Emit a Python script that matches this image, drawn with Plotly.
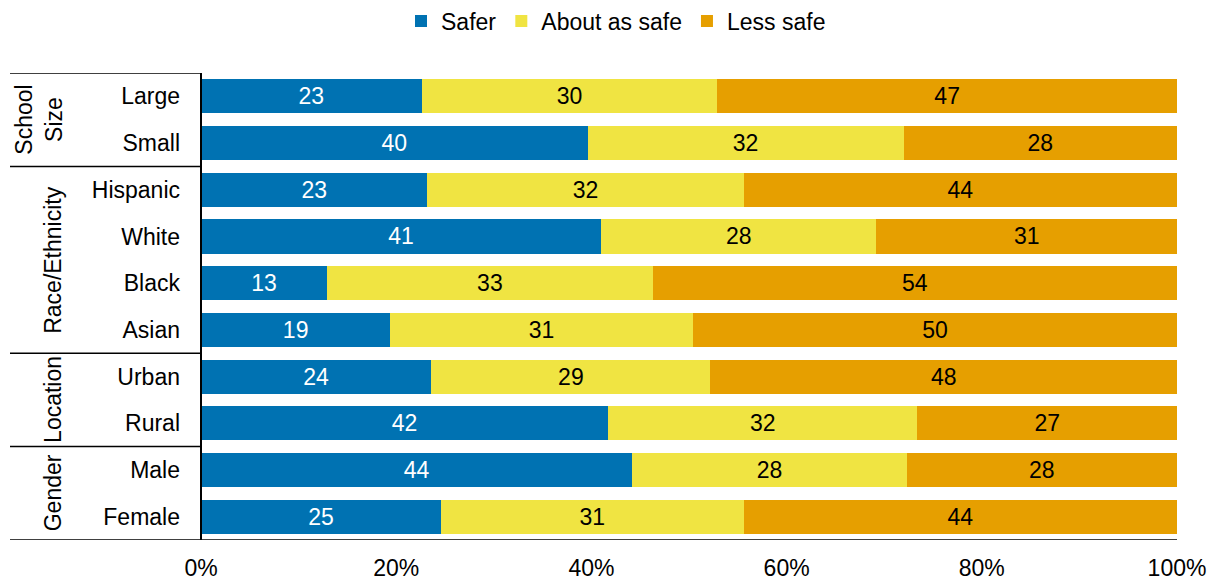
import plotly.graph_objects as go

categories = ["Large", "Small", "Hispanic", "White", "Black", "Asian",
              "Urban", "Rural", "Male", "Female"]
safer = [22.6, 39.6, 23.2, 41.0, 12.9, 19.4, 23.6, 41.7, 44.2, 24.6]
about = [30.3, 32.4, 32.4, 28.2, 33.4, 31.0, 28.6, 31.7, 28.1, 31.0]
less = [47.1, 28.0, 44.4, 30.8, 53.7, 49.6, 47.8, 26.6, 27.7, 44.4]
x_ticks = [0, 20, 40, 60, 80, 100]
x_tick_labels = ["0%", "20%", "40%", "60%", "80%", "100%"]
groups = [("School<br>Size", 0, 1), ("Race/Ethnicity", 2, 5),
          ("Location", 6, 7), ("Gender", 8, 9)]

FONT = "Liberation Sans, Arial, sans-serif"
FS = 23

fig = go.Figure()
series = [("Safer", safer, "#0072B2", "white"),
          ("About as safe", about, "#F0E442", "black"),
          ("Less safe", less, "#E69F00", "black")]
for name, vals, color, tcolor in series:
    fig.add_trace(go.Bar(
        y=categories, x=vals, name=name, orientation="h",
        marker=dict(color=color, line=dict(width=0)),
        texttemplate="%{x:.0f}", textposition="inside",
        insidetextanchor="middle",
        textfont=dict(color=tcolor, size=FS, family=FONT),
        hoverinfo="skip",
    ))

W, H = 1214, 581
L = 201
T = 73
pw = 1177 - 201
ph = 540 - 73
R = W - L - pw
B = H - T - ph

def px_to_paper_x(px):
    return (px - L) / pw

shapes = []
x_left = px_to_paper_x(10)
shapes.append(dict(type="line", xref="paper", yref="y", x0=x_left, x1=0,
                   y0=-0.5, y1=-0.5, line=dict(color="black", width=1.5)))
for label, a, b in groups:
    yb = b + 0.5
    x1 = 1 if b == len(categories) - 1 else 0
    shapes.append(dict(type="line", xref="paper", yref="y", x0=x_left, x1=x1,
                       y0=yb, y1=yb, line=dict(color="black", width=1.5)))
shapes.append(dict(type="line", xref="paper", yref="y", x0=0, x1=0,
                   y0=-0.5, y1=len(categories) - 0.5,
                   line=dict(color="black", width=2)))

annotations = []
for label, a, b in groups:
    xc = 39 if "<br>" in label else 53
    annotations.append(dict(
        text=label, xref="paper", yref="y", x=px_to_paper_x(xc), y=(a + b) / 2,
        textangle=-90, showarrow=False, xanchor="center", yanchor="middle",
        font=dict(size=FS, family=FONT, color="black"),
    ))

fig.update_layout(
    barmode="stack",
    bargap=0.27,
    width=W, height=H,
    margin=dict(l=L, r=R, t=T, b=B, autoexpand=False),
    plot_bgcolor="white", paper_bgcolor="white",
    font=dict(family=FONT, size=FS, color="black"),
    showlegend=True,
    legend=dict(orientation="h", xref="paper", yref="container",
                x=px_to_paper_x(616), xanchor="center",
                y=1 - 21 / H, yanchor="middle",
                font=dict(size=FS, family=FONT), traceorder="normal",
                itemwidth=30),
    xaxis=dict(range=[0, 100], tickvals=x_ticks, ticktext=x_tick_labels,
               showgrid=False, zeroline=False, showline=False,
               ticks="", tickfont=dict(size=FS), automargin=False,
               ticklabeloverflow="allow", ticklabelstandoff=12),
    yaxis=dict(categoryorder="array", categoryarray=categories,
               range=[len(categories) - 0.5, -0.5], autorange=False,
               showgrid=False, zeroline=False, showline=False,
               ticks="", ticklabelstandoff=20, tickfont=dict(size=FS),
               automargin=False),
    shapes=shapes,
    annotations=annotations,
)

fig.write_html(
    "out.html",
    config={"displayModeBar": False},
    post_script="document.body.style.margin='0';document.body.style.overflow='hidden';",
)
